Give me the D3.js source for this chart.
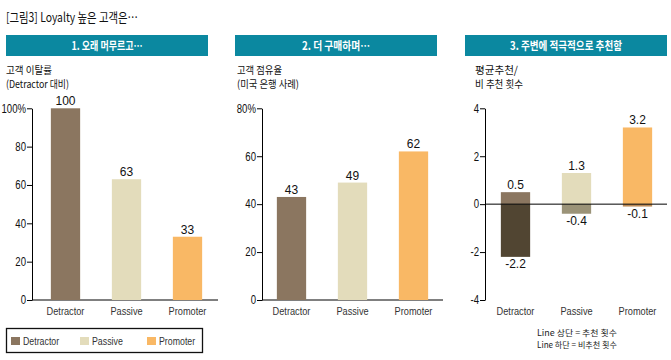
<!DOCTYPE html>
<html><head><meta charset="utf-8">
<script src="https://cdn.jsdelivr.net/npm/d3@7"></script>
<style>
body{margin:0;background:#fff;}
svg{display:block;}
</style></head>
<body><svg id="c" width="671" height="360"></svg>
<script>
const categories = ["Detractor", "Passive", "Promoter"];
const churnValues = [100, 63, 33];
const shareValues = [43, 49, 62];
const recommendUpper = [0.5, 1.3, 3.2];
const recommendLower = [-2.2, -0.4, -0.1];
const churnTicks = [0, 20, 40, 60, 80, 100];
const shareTicks = [0, 20, 40, 60, 80];
const recTicks = [-4, -2, 0, 2, 4];
const headers = ["1. 오래 머무르고…", "2. 더 구매하며…", "3. 주변에 적극적으로 추천함"];
const yTitles = [["고객 이탈률", "(Detractor 대비)"], ["고객 점유율", "(미국 은행 사례)"], ["평균추천/", "비 추천 횟수"]];
const chartTitle = "[그림3] Loyalty 높은 고객은…";
const noteLines = ["Line 상단 = 추천 횟수", "Line 하단 = 비추천 횟수"];

const colors = ["#8b7660", "#e3dcbb", "#f9b865"];
const lowerColors = ["#514532", "#9b9378", "#bb8a57"];
const SANS = "'Liberation Sans', Arial, sans-serif";
const KR = "'Noto Sans CJK KR', 'Noto Sans', sans-serif";
const SQ = 0.8;

const svg = d3.select("#c");

function narrowText(x, y, txt, size, anchor) {
  return svg.append("text").attr("transform", `translate(${x},${y}) scale(${SQ},1)`)
    .attr("text-anchor", anchor || "start").attr("font-family", SANS).attr("font-size", size)
    .attr("fill", "#333").text(txt);
}

// Title
svg.append("text").attr("x", 6).attr("y", 22).text(chartTitle)
  .attr("font-family", KR).attr("font-size", 13).attr("fill", "#111")
  .attr("textLength", 132).attr("lengthAdjust", "spacingAndGlyphs");

const panels = [
  {hx: 6, hw: 202, axisX: 32, r0: 35, r1: 218, lineEnd: 218, tx: 6, tw: [46, 63]},
  {hx: 235, hw: 202, axisX: 262, r0: 261, r1: 444, lineEnd: 443, tx: 237, tw: [45, 62]},
  {hx: 465, hw: 202, axisX: 485, r0: 485, r1: 668, lineEnd: 667, tx: 475, tw: [43, 48]}
];
const headerW = [71, 68, 112];
const yTop = 108.3, yBot = 300;

panels.forEach((p, i) => {
  svg.append("rect").attr("x", p.hx).attr("y", 35).attr("width", p.hw).attr("height", 21).attr("fill", "#0b88a0");
  svg.append("text").attr("x", p.hx + p.hw / 2).attr("y", 50).attr("text-anchor", "middle")
    .attr("font-family", KR).attr("font-weight", "bold").attr("font-size", 11.5).attr("fill", "#fff")
    .attr("textLength", headerW[i]).attr("lengthAdjust", "spacingAndGlyphs").text(headers[i]);
  yTitles[i].forEach((t, j) => {
    svg.append("text").attr("x", p.tx).attr("y", 74 + j * 14).text(t)
      .attr("font-family", KR).attr("font-size", 10.5).attr("fill", "#111")
      .attr("textLength", p.tw[j]).attr("lengthAdjust", "spacingAndGlyphs");
  });
});

function styleAxis(g) {
  g.selectAll("path").attr("stroke", "#000").attr("stroke-width", 1);
  g.selectAll("line").attr("stroke", "#000").attr("stroke-width", 1);
  g.selectAll("text").attr("font-family", SANS).attr("font-size", 12).attr("fill", "#111")
    .attr("x", null).attr("transform", `translate(-6,0) scale(${SQ},1)`);
}

function catLabels(x) {
  categories.forEach(c => narrowText(x(c) + x.bandwidth() / 2, 315, c, 11.5, "middle"));
}

function valueLabel(x, y, txt) {
  svg.append("text").attr("x", x).attr("y", y).attr("text-anchor", "middle")
    .attr("font-family", SANS).attr("font-size", 12).attr("fill", "#111").text(txt);
}

// Panel 1 & 2: simple bars
[[churnValues, churnTicks, 100, 0], [shareValues, shareTicks, 80, 1]].forEach(([vals, ticks, max, i]) => {
  const p = panels[i];
  const x = d3.scaleBand().domain(categories).range([p.r0, p.r1]).paddingInner(0.52).paddingOuter(0.26);
  const y = d3.scaleLinear().domain([0, max]).range([yBot, yTop]);
  const ax = svg.append("g").attr("transform", `translate(${p.axisX},0)`)
    .call(d3.axisLeft(y).tickValues(ticks).tickSizeInner(5).tickSizeOuter(0).tickPadding(2)
      .tickFormat(d => d === max ? d + "%" : d));
  styleAxis(ax);
  svg.append("line").attr("x1", p.axisX).attr("x2", p.lineEnd).attr("y1", yBot).attr("y2", yBot)
    .attr("stroke", "#000").attr("stroke-width", 1);
  svg.selectAll(null).data(vals).enter().append("rect")
    .attr("x", (d, k) => x(categories[k])).attr("width", x.bandwidth())
    .attr("y", d => y(d)).attr("height", d => y(0) - y(d)).attr("fill", (d, k) => colors[k]);
  vals.forEach((v, k) => valueLabel(x(categories[k]) + x.bandwidth() / 2, y(v) - 3, v));
  catLabels(x);
});

// Panel 3: upper/lower bars
{
  const p = panels[2];
  const x = d3.scaleBand().domain(categories).range([p.r0, p.r1]).paddingInner(0.52).paddingOuter(0.26);
  const y = d3.scaleLinear().domain([-4, 4]).range([yBot, yTop]);
  const ax = svg.append("g").attr("transform", `translate(${p.axisX},0)`)
    .call(d3.axisLeft(y).tickValues(recTicks).tickSizeInner(5).tickSizeOuter(0).tickPadding(2)
      .tickFormat(d => d < 0 ? "-" + Math.abs(d) : d));
  styleAxis(ax);
  svg.selectAll(null).data(recommendUpper).enter().append("rect")
    .attr("x", (d, k) => x(categories[k])).attr("width", x.bandwidth())
    .attr("y", d => y(d)).attr("height", d => y(0) - y(d)).attr("fill", (d, k) => colors[k]);
  svg.selectAll(null).data(recommendLower).enter().append("rect")
    .attr("x", (d, k) => x(categories[k])).attr("width", x.bandwidth())
    .attr("y", y(0)).attr("height", d => y(d) - y(0)).attr("fill", (d, k) => lowerColors[k]);
  svg.append("line").attr("x1", p.axisX).attr("x2", p.lineEnd).attr("y1", y(0)).attr("y2", y(0))
    .attr("stroke", "#000").attr("stroke-width", 1);
  recommendUpper.forEach((v, k) => valueLabel(x(categories[k]) + x.bandwidth() / 2, y(v) - 3, v.toFixed(1)));
  recommendLower.forEach((v, k) => valueLabel(x(categories[k]) + x.bandwidth() / 2, y(v) + 11, "-" + Math.abs(v).toFixed(1)));
  catLabels(x);
  noteLines.forEach((t, j) => {
    svg.append("text").attr("x", 577).attr("y", 336 + j * 12).attr("text-anchor", "middle")
      .attr("font-family", KR).attr("font-size", 8.5).attr("fill", "#222")
      .attr("textLength", 80).attr("lengthAdjust", "spacingAndGlyphs").text(t);
  });
}

// Legend
svg.append("rect").attr("x", 6.5).attr("y", 328.5).attr("width", 196).attr("height", 24)
  .attr("fill", "none").attr("stroke", "#111").attr("stroke-width", 1.3);
const legX = [11, 80, 147];
categories.forEach((c, k) => {
  svg.append("rect").attr("x", legX[k]).attr("y", 337).attr("width", 9).attr("height", 8).attr("fill", colors[k]);
  narrowText(legX[k] + 12, 345, c, 11);
});
</script></body></html>
